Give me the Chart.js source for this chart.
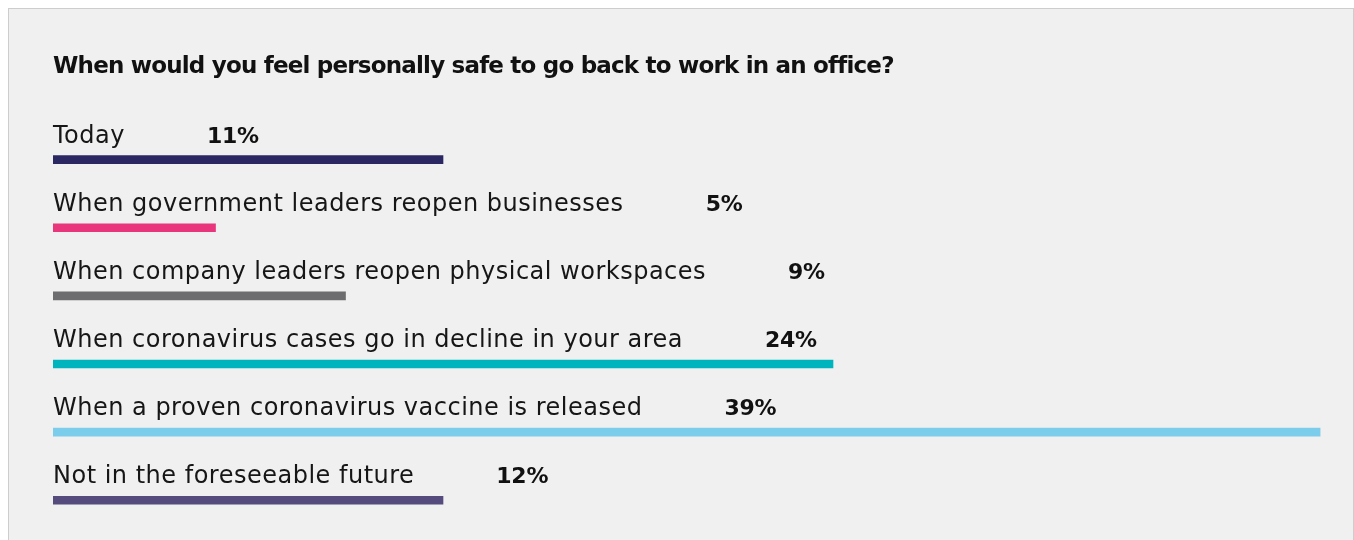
<!DOCTYPE html>
<html>
<head>
<meta charset="utf-8">
<title>When would you feel personally safe to go back to work in an office?</title>
<script src="https://cdn.jsdelivr.net/npm/chart.js@4"></script>
<style>
    html, body { margin: 0; padding: 0; background: #ffffff; }
    .panel {
        position: absolute;
        left: 8px;
        top: 8px;
        width: 1344px;
        height: 560px;
        background: #f0f0f0;
        border: 1px solid #cdcdcd;
    }
    .chart-wrap {
        position: absolute;
        left: 0;
        top: 0;
        width: 1354px;
        height: 540px;
    }
</style>
</head>
<body>
<div class="panel"></div>
<div class="chart-wrap"><canvas id="chart"></canvas></div>
<script>
const title = 'When would you feel personally safe to go back to work in an office?';

const categories = [
    'Today',
    'When government leaders reopen businesses',
    'When company leaders reopen physical workspaces',
    'When coronavirus cases go in decline in your area',
    'When a proven coronavirus vaccine is released',
    'Not in the foreseeable future'
];

// bar lengths as drawn in the picture, and the printed percentages
const barValues = [12, 5, 9, 24, 39, 12];
const percentLabels = ['11%', '5%', '9%', '24%', '39%', '12%'];

const barColors = ['#2b2762', '#e8357b', '#6d6d6f', '#00b4be', '#7bcdeb', '#554b7c'];

const fontFamily = '"DejaVu Sans", "Liberation Sans", sans-serif';

const labelPlugin = {
    id: 'rowLabels',
    afterDatasetsDraw(chart) {
        const ctx = chart.ctx;
        const area = chart.chartArea;
        const bars = chart.getDatasetMeta(0).data;

        ctx.save();
        ctx.textAlign = 'left';
        ctx.textBaseline = 'alphabetic';

        // title
        ctx.font = 'bold 23px ' + fontFamily;
        ctx.letterSpacing = '-0.8px';
        ctx.fillStyle = '#111111';
        ctx.fillText(title, area.left, 73);

        bars.forEach(function(bar, i) {
            const y = bar.y - 17;
            ctx.font = '24px ' + fontFamily;
            ctx.letterSpacing = '0.5px';
            ctx.fillStyle = '#161616';
            ctx.fillText(categories[i], area.left, y);
            const w = ctx.measureText(categories[i]).width;

            ctx.font = 'bold 22px ' + fontFamily;
            ctx.letterSpacing = '-0.3px';
            ctx.fillStyle = '#111111';
            ctx.fillText(percentLabels[i], area.left + w + 82, y);
        });
        ctx.restore();
    }
};

const ctx = document.getElementById('chart').getContext('2d');
new Chart(ctx, {
    type: 'bar',
    data: {
        labels: categories,
        datasets: [{
            data: barValues,
            backgroundColor: barColors,
            borderWidth: 0,
            barThickness: 8
        }]
    },
    options: {
        indexAxis: 'y',
        responsive: true,
        maintainAspectRatio: false,
        animation: false,
        layout: {
            padding: { left: 53, right: 33.5, top: 125.6, bottom: 5.7 }
        },
        scales: {
            x: { display: false, min: 0, max: 39 },
            y: { display: false }
        },
        plugins: {
            legend: { display: false },
            tooltip: { enabled: false },
            title: { display: false }
        }
    },
    plugins: [labelPlugin]
});
</script>
</body>
</html>
